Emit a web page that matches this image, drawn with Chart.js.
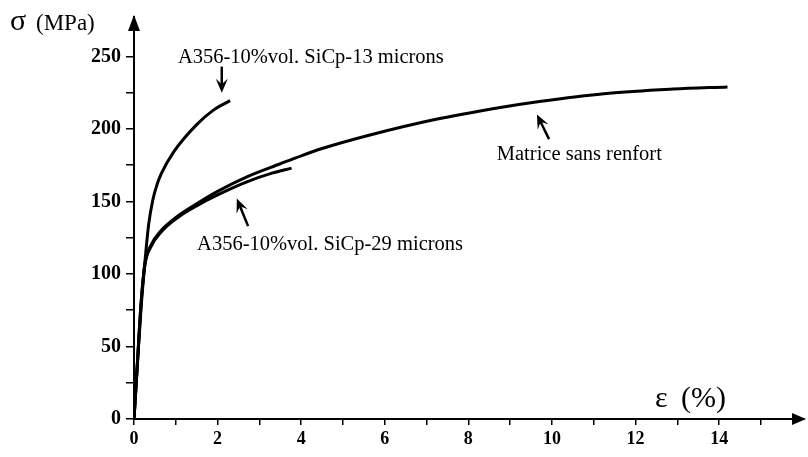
<!DOCTYPE html>
<html>
<head>
<meta charset="utf-8">
<style>
  html, body { margin: 0; padding: 0; background: #fff; }
  #wrap { width: 808px; height: 457px; }
</style>
<script src="https://cdn.jsdelivr.net/npm/chart.js@4"></script>
</head>
<body>
<div id="wrap"><canvas id="stressChart" width="808" height="457"></canvas></div>
<script>
// strain (%) / stress (MPa) readings for each material
const matrixStrain = [0, 0.08, 0.17, 0.26, 0.41, 0.65, 1.05, 1.53, 2.0, 2.7, 3.5, 4.0, 4.5, 5.6, 7.2, 8.8, 9.7, 11.3, 12.9, 14.2];
const matrixStress = [0, 38, 80, 107, 120, 130, 140, 149, 157, 167, 176, 181.5, 186.5, 195.5, 206.5, 215, 219, 224.5, 227.5, 229];

const sic29Strain = [0, 0.08, 0.17, 0.26, 0.41, 0.65, 1.05, 1.53, 2.0, 2.7, 3.3, 3.77];
const sic29Stress = [0, 38, 80, 106, 119, 129, 139, 147.5, 154.5, 163.5, 169.5, 173];

const sic13Strain = [0, 0.08, 0.17, 0.27, 0.35, 0.45, 0.55, 0.65, 0.97, 1.5, 1.9, 2.3];
const sic13Stress = [0, 37, 77, 111, 134, 151, 161.5, 169, 185, 203, 213, 219.5];

const strainTicks = [0, 1, 2, 3, 4, 5, 6, 7, 8, 9, 10, 11, 12, 13, 14, 15];
const stressTicks = [0, 25, 50, 75, 100, 125, 150, 175, 200, 225, 250];

const serif = '"Liberation Serif", "DejaVu Serif", serif';

// curve labels with their pointer arrows (data units)
const notes = [
  { text: 'A356-10%vol. SiCp-13 microns', x: 1.05, y: 249.5, from: [2.1, 243], to: [2.1, 225] },
  { text: 'A356-10%vol. SiCp-29 microns', x: 1.51, y: 120, from: [2.73, 133], to: [2.46, 152] },
  { text: 'Matrice sans renfort', x: 8.68, y: 182.5, from: [9.93, 193], to: [9.64, 210] }
];

function toPoints(xs, ys) {
  return xs.map((x, i) => ({ x: x, y: ys[i] }));
}

function curve(xs, ys) {
  return {
    data: toPoints(xs, ys),
    showLine: true,
    borderColor: '#000',
    borderWidth: 3,
    pointRadius: 0,
    cubicInterpolationMode: 'monotone',
    fill: false
  };
}

function arrow(ctx, x1, y1, x2, y2, head, width) {
  const a = Math.atan2(y2 - y1, x2 - x1);
  ctx.beginPath();
  ctx.moveTo(x1, y1);
  ctx.lineTo(x2 - Math.cos(a) * head * 0.6, y2 - Math.sin(a) * head * 0.6);
  ctx.stroke();
  ctx.beginPath();
  ctx.moveTo(x2, y2);
  ctx.lineTo(x2 - head * Math.cos(a) + width * Math.sin(a), y2 - head * Math.sin(a) - width * Math.cos(a));
  ctx.lineTo(x2 - head * 0.6 * Math.cos(a), y2 - head * 0.6 * Math.sin(a));
  ctx.lineTo(x2 - head * Math.cos(a) - width * Math.sin(a), y2 - head * Math.sin(a) + width * Math.cos(a));
  ctx.closePath();
  ctx.fill();
}

const decorations = {
  id: 'decorations',
  afterDraw(chart) {
    const { ctx, chartArea: area, scales } = chart;
    const sx = scales.x, sy = scales.y;
    ctx.save();
    ctx.fillStyle = '#000';
    ctx.strokeStyle = '#000';

    // axis arrow heads
    ctx.beginPath();
    ctx.moveTo(area.left, area.top - 2);
    ctx.lineTo(area.left - 6, area.top + 14);
    ctx.lineTo(area.left + 6, area.top + 14);
    ctx.closePath();
    ctx.fill();
    ctx.beginPath();
    ctx.moveTo(area.right + 2, area.bottom);
    ctx.lineTo(area.right - 12, area.bottom - 6);
    ctx.lineTo(area.right - 12, area.bottom + 6);
    ctx.closePath();
    ctx.fill();

    // axis titles
    ctx.textBaseline = 'alphabetic';
    ctx.textAlign = 'left';
    ctx.font = '30px ' + serif;
    ctx.fillText('\u03c3', 10, 30);
    ctx.font = '23px ' + serif;
    ctx.fillText('(MPa)', 36, 30);
    ctx.font = '30px ' + serif;
    ctx.fillText('\u03b5', 655, 407);
    ctx.font = '30px ' + serif;
    ctx.fillText('(%)', 681, 407);

    // curve labels
    ctx.font = '20.5px ' + serif;
    ctx.textBaseline = 'middle';
    ctx.lineWidth = 2.5;
    notes.forEach(n => {
      ctx.fillText(n.text, sx.getPixelForValue(n.x), sy.getPixelForValue(n.y));
      arrow(ctx,
        sx.getPixelForValue(n.from[0]), sy.getPixelForValue(n.from[1]),
        sx.getPixelForValue(n.to[0]), sy.getPixelForValue(n.to[1]), 14, 6);
    });
    ctx.restore();
  }
};

const ctx = document.getElementById('stressChart').getContext('2d');
new Chart(ctx, {
  type: 'scatter',
  data: {
    datasets: [
      curve(matrixStrain, matrixStress),
      curve(sic29Strain, sic29Stress),
      curve(sic13Strain, sic13Stress)
    ]
  },
  options: {
    responsive: false,
    animation: false,
    layout: { padding: { top: 6, right: 4, left: 0, bottom: 0 } },
    plugins: {
      legend: { display: false },
      tooltip: { enabled: false }
    },
    scales: {
      x: {
        type: 'linear',
        min: 0,
        max: 16.03,
        afterBuildTicks: scale => { scale.ticks = strainTicks.map(v => ({ value: v })); },
        afterFit: scale => { scale.height = 38; },
        border: { display: true, color: '#000', width: 2 },
        grid: { drawOnChartArea: false, drawTicks: true, tickLength: 6, color: '#000', lineWidth: 1.5 },
        ticks: {
          autoSkip: false,
          maxRotation: 0,
          padding: 4,
          color: '#000',
          font: { family: serif, size: 18, weight: 'bold' },
          callback: v => (v % 2 === 0 ? String(v) : '')
        }
      },
      y: {
        type: 'linear',
        min: 0,
        max: 277.2,
        afterBuildTicks: scale => { scale.ticks = stressTicks.map(v => ({ value: v })); },
        afterFit: scale => { scale.width = 134; },
        border: { display: true, color: '#000', width: 2 },
        grid: { drawOnChartArea: false, drawTicks: true, tickLength: 8, color: '#000', lineWidth: 1.5 },
        ticks: {
          autoSkip: false,
          padding: 5,
          color: '#000',
          font: { family: serif, size: 20, weight: 'bold' },
          callback: v => (v % 50 === 0 ? String(v) : '')
        }
      }
    }
  },
  plugins: [decorations]
});
</script>
</body>
</html>
